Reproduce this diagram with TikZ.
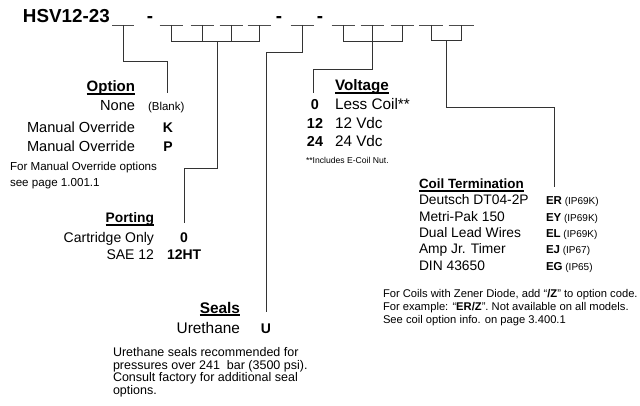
\documentclass[tikz,border=0pt]{standalone}
\usepackage{fontspec}
\setmainfont{Liberation Sans}
\newcommand\hul[1]{\setbox0=\hbox{#1}\rlap{\rule[-2.6pt]{\wd0}{1.2pt}}\box0}
\newcommand\fs[1]{\fontsize{#1}{#1}\selectfont}
\begin{document}
\begin{tikzpicture}[x=1pt,y=-1pt,
  t/.style={inner sep=0pt, outer sep=0pt},
  conn/.style={draw=black!80, line width=1pt},
  blank/.style={draw=black!70, line width=0.9pt},
  title/.style={t, font=\bfseries\fs{18.8}},
  opt/.style={t, font=\fs{14.6}},
  optb/.style={t, font=\bfseries\fs{14}},
  note/.style={t, anchor=base west, font=\fs{11.6}},
  port/.style={t, font=\fs{14}},
  seal/.style={t, font=\fs{15.4}},
  volt/.style={t, font=\fs{15.3}},
  voltb/.style={t, anchor=base, font=\bfseries\fs{14.4}},
  coil/.style={t, anchor=base west, font=\fs{13.8}},
  code/.style={t, anchor=base west, font=\bfseries\fs{11.5}}]
\useasboundingbox (0,0) rectangle (640,406);
% title
\node[title, anchor=base west] (ttl) at (23,23) {HSV12-23};
\node[title, anchor=base] (d1) at (150,23) {-};
\node[title, anchor=base] (d2) at (279,23) {-};
\node[title, anchor=base] (d3) at (320,23) {-};
% blank positions
\coordinate (b1) at (123,25);
\coordinate (p1) at (171,25);
\coordinate (p2) at (202,25);
\coordinate (p3) at (231,25);
\coordinate (p4) at (259,25);
\coordinate (s1) at (302,25);
\coordinate (v1) at (343,25);
\coordinate (v2) at (372,25);
\coordinate (v3) at (402,25);
\coordinate (c1) at (431,25);
\coordinate (c2) at (461,25);
\foreach \c/\w in {b1/22,p1/23,p2/23,p3/23,p4/23,s1/23,v1/23,v2/23,v3/23,c1/24,c2/25}
  \draw[blank] (\c) ++(-\w/2,0) -- ++(\w,0);
% connector ends
\coordinate (optend) at (167,93);
\coordinate (pmid) at (217,42);
\coordinate (portend) at (184,223);
\coordinate (sealend) at (266,312);
\coordinate (vmid) at (372,42);
\coordinate (voltend) at (313,93);
\coordinate (cmid) at (446,41);
\coordinate (coilend) at (554,187);
% connectors
\draw[conn] (b1) -- ++(0,37) -| (optend);
\draw[conn] (p1) -- ++(0,17) -| (p4);
\draw[conn] (p2) -- ++(0,17);
\draw[conn] (p3) -- ++(0,17);
\draw[conn] (pmid) -- ++(0,127) -| (portend);
\draw[conn] (s1) -- ++(0,28) -| (sealend);
\draw[conn] (v1) -- ++(0,17) -| (v3);
\draw[conn] (v2) -- ++(0,17);
\draw[conn] (vmid) -- ++(0,28) -| (voltend);
\draw[conn] (c1) -- ++(0,16) -| (c2);
\draw[conn] (cmid) -- ++(0,67) -| (coilend);
% Option
\node[opt, anchor=base east, font=\bfseries\fs{15}] (opth) at (135,92) {\hul{Option}};
\node[opt, anchor=base east] (o1) at (135,111) {None};
\node[t, anchor=base west, font=\fs{11.5}] (o1c) at (148,111) {(Blank)};
\node[opt, anchor=base east] (o2) at (135,133) {Manual Override};
\node[optb, anchor=base] (o2c) at (168,133) {K};
\node[opt, anchor=base east] (o3) at (135,152) {Manual Override};
\node[optb, anchor=base] (o3c) at (168,152) {P};
\node[note] (on1) at (10,171) {For Manual Override options};
\node[note] (on2) at (10,187) {see page 1.001.1};
% Porting
\node[port, anchor=base east, font=\bfseries\fs{13.8}] (ph) at (154,223) {\hul{Porting}};
\node[port, anchor=base east] (pr1) at (154,243) {Cartridge Only};
\node[optb, anchor=base] (pr1c) at (184,243) {0};
\node[port, anchor=base east] (pr2) at (154,260) {SAE 12};
\node[optb, anchor=base west] (pr2c) at (167,260) {12HT};
% Seals
\node[seal, anchor=base east, font=\bfseries\fs{15.4}] (sh) at (240,313) {\hul{Seals}};
\node[seal, anchor=base east] (sr1) at (240,333) {Urethane};
\node[optb, anchor=base] (sr1c) at (266,333) {U};
\node[t, anchor=base west, font=\fs{12.5}] (sn1) at (113,356) {Urethane seals recommended for};
\node[t, anchor=base west, font=\fs{12.5}] (sn2) at (113,369) {pressures over 241\ \ bar (3500 psi).};
\node[t, anchor=base west, font=\fs{12.5}] (sn3) at (113,381) {Consult factory for additional seal};
\node[t, anchor=base west, font=\fs{12.5}] (sn4) at (113,394) {options.};
% Voltage
\node[volt, anchor=base west, font=\bfseries\fs{15.2}] (vh) at (335,91) {\hul{Voltage}};
\node[voltb] (vr1c) at (315,110) {0};
\node[volt, anchor=base west] (vr1) at (335,110) {Less Coil**};
\node[voltb] (vr2c) at (315,129) {12};
\node[volt, anchor=base west] (vr2) at (335,129) {12 Vdc};
\node[voltb] (vr3c) at (315,147) {24};
\node[volt, anchor=base west] (vr3) at (335,147) {24 Vdc};
\node[t, anchor=base west, font=\fs{8.6}] (vn) at (306,164) {**Includes E-Coil Nut.};
% Coil termination
\node[coil, font=\bfseries\fs{13.4}] (ch) at (419,189) {\hul{Coil Termination}};
\node[coil] (cr1) at (419,205) {Deutsch DT04-2P};
\node[code] (cr1c) at (546,205) {ER{\mdseries\fs{10} (IP69K)}};
\node[coil] (cr2) at (419,221.5) {Metri-Pak 150};
\node[code] (cr2c) at (546,221.5) {EY{\mdseries\fs{10} (IP69K)}};
\node[coil] (cr3) at (419,238) {Dual Lead Wires};
\node[code] (cr3c) at (546,238) {EL{\mdseries\fs{10} (IP69K)}};
\node[coil] (cr4) at (419,254) {Amp Jr. Timer};
\node[code] (cr4c) at (546,254) {EJ{\mdseries\fs{10} (IP67)}};
\node[coil] (cr5) at (419,270.5) {DIN 43650};
\node[code] (cr5c) at (546,270.5) {EG{\mdseries\fs{10} (IP65)}};
\node[t, anchor=base west, font=\fs{11.2}] (cn1) at (383,297) {For Coils with Zener Diode, add “\textbf{/Z}” to option code.};
\node[t, anchor=base west, font=\fs{11.2}] (cn2) at (383,310) {For example: “\textbf{ER/Z}”. Not available on all models.};
\node[t, anchor=base west, font=\fs{11.2}] (cn3) at (383,323) {See coil option info. on page 3.400.1};
\end{tikzpicture}
\end{document}
